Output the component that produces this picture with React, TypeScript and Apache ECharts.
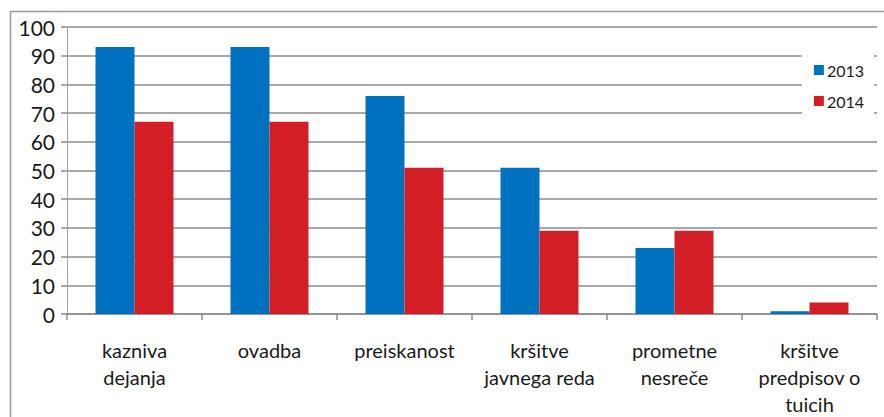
import React, { useEffect, useRef } from "react";
import * as echarts from "echarts";

const categories = [
  "kazniva\ndejanja",
  "ovadba",
  "preiskanost",
  "kršitve\njavnega reda",
  "prometne\nnesreče",
  "kršitve\npredpisov o\ntuicih",
];
const values2013 = [93, 93, 76, 51, 23, 1];
const values2014 = [67, 67, 51, 29, 29, 4];
const yTicks = { min: 0, max: 100, interval: 10 };

export default function App() {
  const ref = useRef<HTMLDivElement>(null);
  useEffect(() => {
    const chart = echarts.init(ref.current!, null, { renderer: "svg" });
    const font = "Lato, 'Noto Sans', sans-serif";
    chart.setOption({
      animation: false,
      backgroundColor: "#fff",
      textStyle: { fontFamily: font },
      graphic: [
        {
          type: "polyline",
          shape: { points: [[10.5, 417], [10.5, 11.5], [884, 11.5]] },
          style: { stroke: "#9a9a9a", lineWidth: 1.5, fill: "none" },
          z: 0,
        },
      ],
      grid: { left: 67, right: 7, top: 27, bottom: 96, containLabel: false },
      legend: {
        orient: "vertical",
        right: 10,
        top: 50,
        backgroundColor: "#fff",
        padding: [12, 10, 12, 12],
        itemGap: 15,
        itemWidth: 10,
        itemHeight: 10,
        icon: "rect",
        textStyle: { fontSize: 16, color: "#1a1a1a", fontFamily: font, padding: [0, 0, 0, -2] },
        data: ["2013", "2014"],
        z: 10,
      },
      xAxis: {
        type: "category",
        data: categories,
        axisLine: { lineStyle: { color: "#8c8c8c", width: 1.5 } },
        axisTick: { show: true, length: 6, lineStyle: { color: "#8c8c8c", width: 1.5 } },
        axisLabel: {
          color: "#1a1a1a",
          fontSize: 20,
          lineHeight: 27,
          margin: 22,
          interval: 0,
          fontFamily: font,
        },
      },
      yAxis: {
        type: "value",
        min: yTicks.min,
        max: yTicks.max,
        interval: yTicks.interval,
        axisLine: { show: true, lineStyle: { color: "#a0a0a0", width: 1 } },
        axisTick: { show: true, length: 6, lineStyle: { color: "#8c8c8c", width: 1.5 } },
        splitLine: { lineStyle: { color: "#8c8c8c", width: 1.5 } },
        axisLabel: { color: "#1a1a1a", fontSize: 21, margin: 12, fontFamily: font },
      },
      series: [
        {
          name: "2013",
          type: "bar",
          data: values2013,
          barWidth: 39,
          barGap: "0%",
          itemStyle: { color: "#0071BF" },
        },
        {
          name: "2014",
          type: "bar",
          data: values2014,
          barWidth: 39,
          barGap: "0%",
          itemStyle: { color: "#D41E26" },
        },
      ],
    });
    return () => chart.dispose();
  }, []);
  return (
    <div
      ref={ref}
      style={{ position: "fixed", left: 0, top: 0, width: 884, height: 417 }}
    />
  );
}
